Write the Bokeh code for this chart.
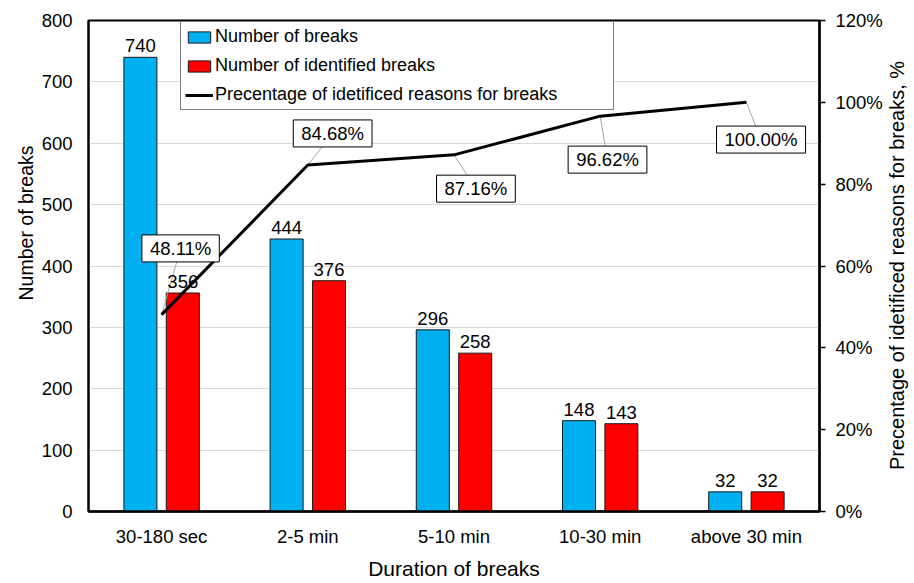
import math
from bokeh.plotting import figure
from bokeh.models import (Range1d, LinearAxis, FixedTicker, PrintfTickFormatter, ColumnDataSource,
                          LabelSet, Label, Legend, LegendItem, Title)
from bokeh.core.properties import value
from bokeh.embed import file_html
from bokeh.resources import INLINE

categories = ["30-180 sec", "2-5 min", "5-10 min", "10-30 min", "above 30 min"]
breaks = [740, 444, 296, 148, 32]
identified = [356, 376, 258, 143, 32]
pct = [48.11, 84.68, 87.16, 96.62, 100.00]
pct_labels = ["48.11%", "84.68%", "87.16%", "96.62%", "100.00%"]
left_title = "Number of breaks"
right_title = "Precentage of idetificed reasons for breaks, %"
bottom_title = "Duration of breaks"
# label box placement (category offset, percentage position)
lab_dx = [0.13, 0.17, 0.15, 0.05, 0.10]
lab_y = [64.3, 92.4, 78.9, 86.0, 90.9]

FONT = "Liberation Sans"
FS = "18.5px"
BLUE = "#00B0F0"
RED = "#FF0000"

xc = [i + 0.5 for i in range(len(categories))]
off = 0.145
bw = 0.226

src = ColumnDataSource(dict(
    xb=[x - off for x in xc], xr=[x + off for x in xc],
    breaks=breaks, identified=identified,
    bl=[str(v) for v in breaks], rl=[str(v) for v in identified],
    xc=xc, pct=pct, pl=pct_labels,
    lx=[x + d for x, d in zip(xc, lab_dx)], ly=lab_y,
))

p = figure(width=914, height=583, x_range=Range1d(0, 5), y_range=Range1d(0, 800),
           output_backend="svg", toolbar_location=None,
           min_border_left=88, min_border_right=95, min_border_top=20, min_border_bottom=72)
p.extra_y_ranges = {"pct": Range1d(0, 120)}

p.outline_line_color = "black"
p.outline_line_width = 2
p.xgrid.visible = False
p.ygrid.grid_line_color = "#d9d9d9"
p.ygrid.grid_line_width = 1

# left axis
ya = p.yaxis[0]
ya.ticker = FixedTicker(ticks=list(range(0, 801, 100)))
ya.minor_tick_line_color = None
ya.major_tick_out = 0
ya.major_tick_in = 0
ya.axis_line_width = 2
ya.axis_line_color = "black"
ya.major_label_text_font = FONT
ya.major_label_text_font_size = FS
ya.major_label_text_color = "black"
ya.major_label_standoff = 16

# left title, placed toward the top like the reference
p.add_layout(Title(text=left_title, align="right", offset=125, standoff=4,
                   text_font=FONT, text_font_size="19.5px", text_font_style="normal",
                   text_color="black"), "left")

# bottom axis
xa = p.xaxis[0]
xa.ticker = FixedTicker(ticks=xc)
xa.major_label_overrides = {x: c for x, c in zip(xc, categories)}
xa.minor_tick_line_color = None
xa.major_tick_out = 0
xa.major_tick_in = 0
xa.axis_line_width = 2.5
xa.axis_line_color = "black"
xa.major_label_text_font = FONT
xa.major_label_text_font_size = FS
xa.major_label_text_color = "black"
xa.major_label_standoff = 14
xa.axis_label = bottom_title
xa.axis_label_text_font = FONT
xa.axis_label_text_font_size = "21px"
xa.axis_label_text_font_style = "normal"
xa.axis_label_text_color = "black"
xa.axis_label_standoff = 7

# right axis
ra = LinearAxis(y_range_name="pct", ticker=FixedTicker(ticks=list(range(0, 121, 20))),
                formatter=PrintfTickFormatter(format="%d%%"))
ra.minor_tick_line_color = None
ra.major_tick_out = 6
ra.major_tick_in = 0
ra.major_tick_line_width = 1.5
ra.axis_line_width = 2.5
ra.axis_line_color = "black"
ra.major_label_text_font = FONT
ra.major_label_text_font_size = FS
ra.major_label_text_color = "black"
ra.major_label_standoff = 10
p.add_layout(ra, "right")

# right title, reading bottom-to-top
p.add_layout(Label(x=11, y=246, x_units="screen", y_units="screen", text=right_title,
                   angle=math.pi / 2, text_align="center", text_baseline="middle",
                   text_font=FONT, text_font_size="20px", text_color="black"), "right")

# bars
rb = p.vbar(x="xb", top="breaks", width=bw, source=src, fill_color=BLUE,
            line_color="#1a1a1a", line_width=1)
rr = p.vbar(x="xr", top="identified", width=bw, source=src, fill_color=RED,
            line_color="#1a1a1a", line_width=1)

# leader lines
p.segment(x0="xc", y0="pct", x1="lx", y1="ly", source=src, y_range_name="pct",
          line_color="#a6a6a6", line_width=1)
# percentage line
rl = p.line(x="xc", y="pct", source=src, y_range_name="pct", line_color="black", line_width=3)

# value labels
for xf, tf, lf in (("xb", "breaks", "bl"), ("xr", "identified", "rl")):
    p.add_layout(LabelSet(x=xf, y=tf, text=lf, source=src, text_align="center",
                          text_baseline="bottom", y_offset=5, text_font=value(FONT),
                          text_font_size=value(FS), text_color="black"))

# percentage labels
for lx, ly, t in zip(src.data["lx"], lab_y, pct_labels):
    p.add_layout(Label(x=lx, y=ly, text=t, y_range_name="pct",
                       text_align="center", text_baseline="middle", text_font=FONT,
                       text_font_size=FS, text_color="black",
                       background_fill_color="white", border_line_color="black",
                       border_line_width=1,
                       padding=dict(left=8, right=8, top=3, bottom=3)))

legend = Legend(items=[
    LegendItem(label="Number of breaks", renderers=[rb]),
    LegendItem(label="Number of identified breaks", renderers=[rr]),
    LegendItem(label="Precentage of idetificed reasons for breaks", renderers=[rl]),
], location=(92, 401))
legend.border_line_color = "black"
legend.border_line_width = 1
legend.background_fill_color = "white"
legend.background_fill_alpha = 1
legend.label_text_font = FONT
legend.label_text_font_size = "18px"
legend.label_text_color = "black"
legend.glyph_width = 28
legend.glyph_height = 14
legend.label_standoff = 2
legend.label_height = 21
legend.spacing = 8
legend.padding = 4
legend.margin = 0
legend.label_width = 394
p.add_layout(legend, "center")

open("out.html", "w").write(file_html(p, INLINE))
